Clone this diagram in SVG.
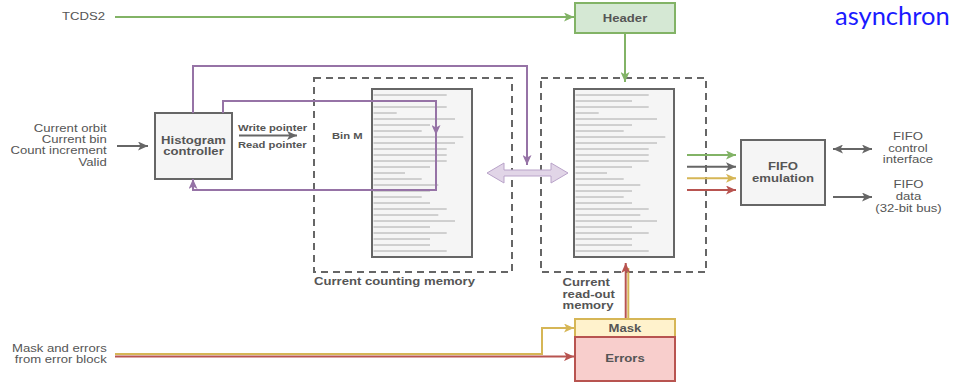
<svg xmlns="http://www.w3.org/2000/svg" xmlns:xlink="http://www.w3.org/1999/xlink" width="954" height="383" viewBox="0 0 954 383">
<style>
.t{font-family:"Liberation Sans",Arial,Helvetica,sans-serif;font-size:10.5px;fill:#555}
.b{font-weight:bold}
.s{font-size:9px}
.box{fill:#f5f5f5;stroke:#666;stroke-width:2}
.dash{fill:none;stroke:#666;stroke-width:2;stroke-dasharray:7 5}
.bl{stroke:#aaa;stroke-width:1}
.c{fill:none;stroke-width:2}
.pu{stroke:#9673a6}
.gr{stroke:#82b366}
.gy{stroke:#666}
.ye{stroke:#d6b656}
.re{stroke:#b85450}
</style>
<defs>
<marker id="aPu" markerUnits="userSpaceOnUse" markerWidth="11" markerHeight="9" refX="10" refY="4.5" orient="auto"><path d="M0,0 L10,4.5 L0,9 L2.5,4.5 z" fill="#9673a6"/></marker>
<marker id="aGr" markerUnits="userSpaceOnUse" markerWidth="11" markerHeight="9" refX="10" refY="4.5" orient="auto"><path d="M0,0 L10,4.5 L0,9 L2.5,4.5 z" fill="#82b366"/></marker>
<marker id="aGy" markerUnits="userSpaceOnUse" markerWidth="11" markerHeight="9" refX="10" refY="4.5" orient="auto"><path d="M0,0 L10,4.5 L0,9 L2.5,4.5 z" fill="#666"/></marker>
<marker id="aGyS" markerUnits="userSpaceOnUse" markerWidth="11" markerHeight="9" refX="0" refY="4.5" orient="auto"><path d="M10,0 L0,4.5 L10,9 L7.5,4.5 z" fill="#666"/></marker>
<marker id="aYe" markerUnits="userSpaceOnUse" markerWidth="11" markerHeight="9" refX="10" refY="4.5" orient="auto"><path d="M0,0 L10,4.5 L0,9 L2.5,4.5 z" fill="#d6b656"/></marker>
<marker id="aRe" markerUnits="userSpaceOnUse" markerWidth="11" markerHeight="9" refX="10" refY="4.5" orient="auto"><path d="M0,0 L10,4.5 L0,9 L2.5,4.5 z" fill="#b85450"/></marker>
<g id="binlines">
<line class="bl" x1="1.5" y1="0" x2="74.7" y2="0"/>
<line class="bl" x1="1.5" y1="6" x2="58" y2="6"/>
<line class="bl" x1="1.5" y1="12" x2="74.7" y2="12"/>
<line class="bl" x1="1.5" y1="18" x2="24.7" y2="18"/>
<line class="bl" x1="1.5" y1="24" x2="83" y2="24"/>
<line class="bl" x1="1.5" y1="30" x2="58" y2="30"/>
<line class="bl" x1="1.5" y1="36" x2="49.7" y2="36"/>
<line class="bl" x1="1.5" y1="42" x2="91.3" y2="42"/>
<line class="bl" x1="1.5" y1="48" x2="83" y2="48"/>
<line class="bl" x1="1.5" y1="54" x2="74.7" y2="54"/>
<line class="bl" x1="1.5" y1="60" x2="74.7" y2="60"/>
<line class="bl" x1="1.5" y1="66" x2="74.7" y2="66"/>
<line class="bl" x1="1.5" y1="72" x2="58" y2="72"/>
<line class="bl" x1="1.5" y1="78" x2="33" y2="78"/>
<line class="bl" x1="1.5" y1="84" x2="49.7" y2="84"/>
<line class="bl" x1="1.5" y1="90" x2="66.3" y2="90"/>
<line class="bl" x1="1.5" y1="96" x2="58" y2="96"/>
<line class="bl" x1="1.5" y1="102" x2="49.7" y2="102"/>
<line class="bl" x1="1.5" y1="108" x2="58" y2="108"/>
<line class="bl" x1="1.5" y1="114" x2="74.7" y2="114"/>
<line class="bl" x1="1.5" y1="120" x2="66.3" y2="120"/>
<line class="bl" x1="1.5" y1="126" x2="83" y2="126"/>
<line class="bl" x1="1.5" y1="132" x2="58" y2="132"/>
<line class="bl" x1="1.5" y1="138" x2="74.7" y2="138"/>
<line class="bl" x1="1.5" y1="144" x2="58" y2="144"/>
<line class="bl" x1="1.5" y1="150" x2="58" y2="150"/>
<line class="bl" x1="1.5" y1="156" x2="74.7" y2="156"/>
</g>
</defs>
<rect width="954" height="383" fill="#fff"/>

<text x="835" y="25" style="font-family:Lato,'Open Sans',sans-serif;font-size:25.5px;fill:#1a1aff">asynchron</text>

<g id="tcds2-input">
<text class="t" text-anchor="end" transform="matrix(1.25 0 0 1 105 20)">TCDS2</text>
</g>

<g id="header">
<rect x="575" y="3" width="100" height="30" fill="#d5e8d4" stroke="#82b366" stroke-width="2"/>
<text class="t b" text-anchor="middle" transform="matrix(1.25 0 0 1 625 21.7)">Header</text>
</g>

<g id="histogram-inputs">
<text class="t" text-anchor="end" transform="matrix(1.25 0 0 1 106.7 131.7)">Current orbit</text>
<text class="t" text-anchor="end" transform="matrix(1.25 0 0 1 106.7 142.9)">Current bin</text>
<text class="t" text-anchor="end" transform="matrix(1.25 0 0 1 106.7 154.2)">Count increment</text>
<text class="t" text-anchor="end" transform="matrix(1.25 0 0 1 106.7 165.5)">Valid</text>
</g>

<g id="histogram-controller">
<rect class="box" x="155" y="113" width="77" height="66"/>
<text class="t b" text-anchor="middle" transform="matrix(1.25 0 0 1 193.5 144)">Histogram</text>
<text class="t b" text-anchor="middle" transform="matrix(1.25 0 0 1 193.5 155.3)">controller</text>
</g>

<g id="pointer-labels">
<text class="t b s" transform="matrix(1.25 0 0 1 238 130.5)">Write pointer</text>
<text class="t b s" transform="matrix(1.25 0 0 1 238 148.3)">Read pointer</text>
</g>

<g id="counting-memory">
<rect class="dash" x="314" y="78" width="198" height="194"/>
<rect class="box" x="372" y="89" width="100" height="168"/>
<use xlink:href="#binlines" x="372" y="95"/>
<text class="t b s" transform="matrix(1.25 0 0 1 332 139)">Bin M</text>
<text class="t b" transform="matrix(1.25 0 0 1 314 285)">Current counting memory</text>
</g>

<g id="readout-memory">
<rect class="dash" x="541" y="78" width="165" height="194"/>
<rect class="box" x="574" y="89" width="100" height="168"/>
<use xlink:href="#binlines" x="574" y="95"/>
<text class="t b" transform="matrix(1.25 0 0 1 562.5 286)">Current</text>
<text class="t b" transform="matrix(1.25 0 0 1 562.5 297.7)">read-out</text>
<text class="t b" transform="matrix(1.25 0 0 1 562.5 309.3)">memory</text>
</g>

<g id="fifo-emulation">
<rect class="box" x="741" y="140" width="84" height="65"/>
<text class="t b" text-anchor="middle" transform="matrix(1.25 0 0 1 783 170)">FIFO</text>
<text class="t b" text-anchor="middle" transform="matrix(1.25 0 0 1 783 181.7)">emulation</text>
</g>

<g id="fifo-control">
<text class="t" text-anchor="middle" transform="matrix(1.25 0 0 1 908 140)">FIFO</text>
<text class="t" text-anchor="middle" transform="matrix(1.25 0 0 1 908 151.7)">control</text>
<text class="t" text-anchor="middle" transform="matrix(1.25 0 0 1 908 163.3)">interface</text>
</g>

<g id="fifo-data">
<text class="t" text-anchor="middle" transform="matrix(1.25 0 0 1 908.5 188.3)">FIFO</text>
<text class="t" text-anchor="middle" transform="matrix(1.25 0 0 1 908.5 200)">data</text>
<text class="t" text-anchor="middle" transform="matrix(1.25 0 0 1 908.5 211.7)">(32-bit bus)</text>
</g>

<g id="error-inputs">
<text class="t" text-anchor="end" transform="matrix(1.25 0 0 1 106.7 351.7)">Mask and errors</text>
<text class="t" text-anchor="end" transform="matrix(1.25 0 0 1 106.7 362.7)">from error block</text>
</g>

<g id="mask">
<rect x="575" y="319" width="100" height="18" fill="#fff2cc" stroke="#d6b656" stroke-width="2"/>
<text class="t b" text-anchor="middle" transform="matrix(1.25 0 0 1 625 331.7)">Mask</text>
</g>

<g id="errors">
<rect x="575" y="337" width="100" height="44" fill="#f8cecc" stroke="#b85450" stroke-width="2"/>
<text class="t b" text-anchor="middle" transform="matrix(1.25 0 0 1 625 361.5)">Errors</text>
</g>

<g id="connectors">
<path class="c gr" d="M115,17 H574" marker-end="url(#aGr)"/>
<path class="c gr" d="M625,33 V82" marker-end="url(#aGr)"/>
<path class="c gy" d="M117,146 H148" marker-end="url(#aGy)"/>
<path class="c gy" stroke-width="1.5" d="M239,135.5 H297" marker-end="url(#aGy)"/>
<path class="c pu" d="M193,113 V66 H527 V165" marker-end="url(#aPu)"/>
<path class="c pu" d="M223,113 V101 H436 V135" marker-end="url(#aPu)"/>
<path class="c pu" d="M436,132 V190 H193 V179" marker-end="url(#aPu)"/>
<polygon points="487,173 504,163 504,170 551,170 551,163 568,173 551,183 551,176 504,176 504,183" fill="#e1d5e7" stroke="#b9a3c9" stroke-width="1"/>
<path class="c gr" d="M687,155 H736" marker-end="url(#aGr)"/>
<path class="c gy" d="M687,166.7 H736" marker-end="url(#aGy)"/>
<path class="c ye" d="M687,178.3 H736" marker-end="url(#aYe)"/>
<path class="c re" d="M687,190 H736" marker-end="url(#aRe)"/>
<path class="c gy" d="M833,149 H872" marker-start="url(#aGyS)" marker-end="url(#aGy)"/>
<path class="c gy" d="M833,197 H872" marker-end="url(#aGy)"/>
<path class="c ye" stroke-width="2.5" d="M115,354 H542 V328 H574" marker-end="url(#aYe)"/>
<path class="c re" stroke-width="2.5" d="M115,356.6 H574" marker-end="url(#aRe)"/>
<path class="c ye" stroke-width="2.5" d="M628.3,318 V268"/>
<path class="c re" stroke-width="2.5" d="M625.7,318 V263" marker-end="url(#aRe)"/>
</g>
</svg>
